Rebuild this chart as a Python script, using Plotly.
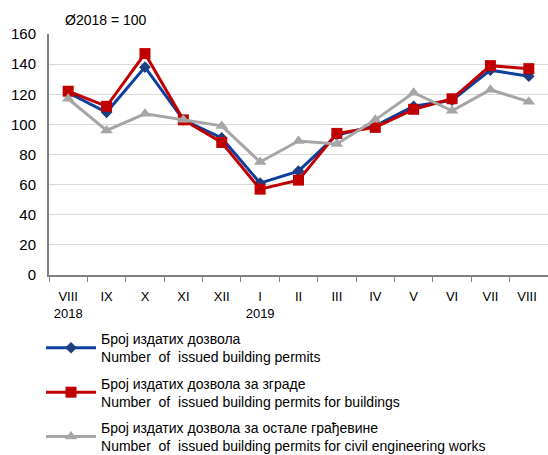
import plotly.graph_objects as go

months = ["VIII", "IX", "X", "XI", "XII", "I", "II", "III", "IV", "V", "VI", "VII", "VIII"]
tick_labels = ["VIII<br>2018", "IX", "X", "XI", "XII", "I<br>2019", "II", "III", "IV", "V", "VI", "VII", "VIII "]
permits_total = [121, 108, 138, 103, 91, 61, 69, 93, 99, 112, 116, 136, 132]
permits_buildings = [122, 112, 147, 103, 88, 57, 63, 94, 98, 110, 117, 139, 137]
permits_civil = [117, 96, 107, 103, 99, 75, 89, 87, 103, 121, 109, 123, 115]

names = [
    "Број издатих дозвола<br>Number  of  issued building permits",
    "Број издатих дозвола за зграде<br>Number  of  issued building permits for buildings",
    "Број издатих дозвола за остале грађевине<br>Number  of  issued building permits for civil engineering works",
]

x = tick_labels

fig = go.Figure()
fig.add_trace(go.Scatter(x=x, y=permits_total, name=names[0], mode="lines+markers",
                         legendgroup="a",
                         line=dict(color="#0d3f9f", width=3),
                         marker=dict(symbol="diamond", size=9, color="#1b3f7f")))
fig.add_trace(go.Scatter(x=x, y=permits_buildings, name=names[1], mode="lines+markers",
                         legendgroup="b",
                         line=dict(color="#c00000", width=3),
                         marker=dict(symbol="square", size=11, color="#c00000")))
fig.add_trace(go.Scatter(x=x, y=permits_civil, name=names[2], mode="lines+markers",
                         legendgroup="c",
                         line=dict(color="#a6a6a6", width=3),
                         marker=dict(symbol="triangle-up", size=11, color="#a6a6a6")))

fig.update_layout(
    width=548, height=455,
    margin=dict(l=49, r=0, t=34, b=180, autoexpand=False),
    paper_bgcolor="white", plot_bgcolor="white",
    font=dict(family="Liberation Sans, Arial, sans-serif", color="#000000", size=13),
    showlegend=True,
    legend=dict(orientation="v", x=-0.016, xanchor="left",
                y=0.29, yref="container", yanchor="top",
                font=dict(size=14), tracegroupgap=5, itemwidth=50,
                bgcolor="rgba(0,0,0,0)"),
    annotations=[dict(text="Ø2018 = 100", xref="paper", yref="paper", x=0.028, y=1.015,
                      xanchor="left", yanchor="bottom", showarrow=False,
                      font=dict(size=14))],
)
fig.update_xaxes(type="category", tickson="boundaries", automargin=False,
                 range=[-0.5, 12.5], showgrid=False, zeroline=False,
                 showline=True, linecolor="#808080", linewidth=2,
                 ticks="outside", ticklen=5, tickcolor="#808080",
                 ticklabelstandoff=8, tickfont=dict(size=13))
fig.update_yaxes(range=[0, 160], dtick=20, showgrid=True, gridcolor="#d9d9d9",
                 gridwidth=1, zeroline=False, showline=True, linecolor="#808080",
                 linewidth=2, ticks="", ticklabelstandoff=8,
                 tickfont=dict(size=15), automargin=False)

fig.write_html("out.html", post_script="document.body.style.margin='0';",
               config={"displayModeBar": False})
